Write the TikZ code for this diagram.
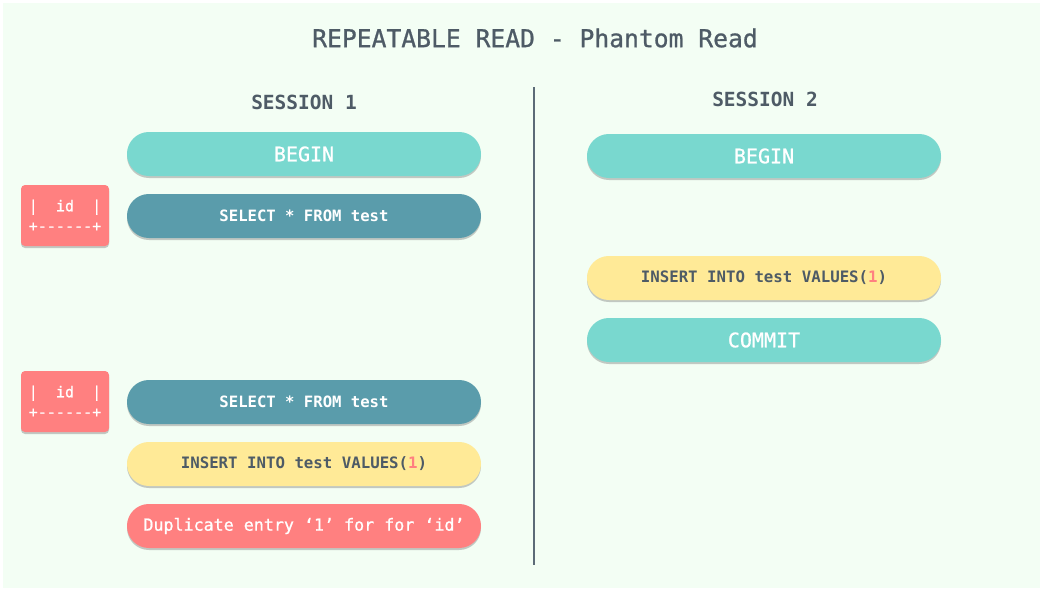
\documentclass[tikz,border=0pt]{standalone}
\usepackage{fontspec}
\setmonofont{DejaVu Sans Mono}
\newfontfamily\pmono{DejaVu Sans Mono}
\newfontfamily\pmed[FakeBold=0.9]{DejaVu Sans Mono}
\usetikzlibrary{shadows}
\definecolor{bgc}{HTML}{F3FEF4}
\definecolor{tealL}{HTML}{79D8CF}
\definecolor{tealD}{HTML}{5A9CAB}
\definecolor{yel}{HTML}{FFEA97}
\definecolor{redc}{HTML}{FF8080}
\definecolor{ink}{HTML}{4E5B66}
\definecolor{divc}{HTML}{5C6B77}
\tikzset{
  pill/.style={rectangle, rounded corners=16.4pt, minimum width=265.5pt, minimum height=33pt, inner sep=0pt,
    drop shadow={opacity=0.35, shadow xshift=0pt, shadow yshift=-1.5pt, fill=black!60}},
  lightpill/.style={pill, fill=tealL, text=white, font=\pmed\fontsize{15}{18}\selectfont},
  darkpill/.style={pill, fill=tealD, text=white, font=\pmono\bfseries\fontsize{11.7}{14}\selectfont},
  yelpill/.style={pill, fill=yel, text=ink, font=\pmono\bfseries\fontsize{11.8}{14}\selectfont},
  redpill/.style={pill, fill=redc, text=white, font=\pmed\fontsize{12.5}{14}\selectfont},
  idbox/.style={rectangle, rounded corners=3pt, fill=redc, text=white, minimum width=66pt, minimum height=45.75pt,
    inner sep=0pt, align=center, font=\pmed\fontsize{11.3}{15}\selectfont,
    drop shadow={opacity=0.35, shadow xshift=0pt, shadow yshift=-1.5pt, fill=black!60}},
  sess/.style={text=ink, font=\pmono\bfseries\fontsize{14.6}{17}\selectfont},
  ttl/.style={text=ink, font=\pmed\fontsize{18.5}{22}\selectfont},
}
\begin{document}
\begin{tikzpicture}[x=0.75pt, y=-0.75pt]
\useasboundingbox (0,0) rectangle (1042,589);
\fill[white] (0,0) rectangle (1042,589);
\fill[bgc] (3,3) rectangle (1040,588);
\node[ttl] (title) at (535,38) {REPEATABLE READ - Phantom Read};
\node[sess] (s1) at (304,102) {SESSION 1};
\node[sess] (s2) at (765,99) {SESSION 2};
\coordinate (dtop) at (534,87);
\coordinate (dbot) at (534,565);
\draw[divc, line width=2.2pt] (dtop) -- (dbot);
% session 1
\node[lightpill] (b1) at (304,154) {BEGIN};
\node[darkpill] (sel1) at (304,216) {SELECT * FROM test};
\node[idbox] (id1) at (65,215.5) {|\ \ id\ \ |\\+------+};
\node[darkpill] (sel2) at (304,402) {SELECT * FROM test};
\node[idbox] (id2) at (65,401.5) {|\ \ id\ \ |\\+------+};
\node[yelpill] (ins1) at (304,464) {INSERT INTO test VALUES(\textcolor{redc}{1})};
\node[redpill] (dup) at (304,526) {Duplicate entry ‘1’ for for ‘id’};
% session 2
\node[lightpill] (b2) at (764,156) {BEGIN};
\node[yelpill] (ins2) at (764,278) {INSERT INTO test VALUES(\textcolor{redc}{1})};
\node[lightpill] (com) at (764,340) {COMMIT};
\end{tikzpicture}
\end{document}
